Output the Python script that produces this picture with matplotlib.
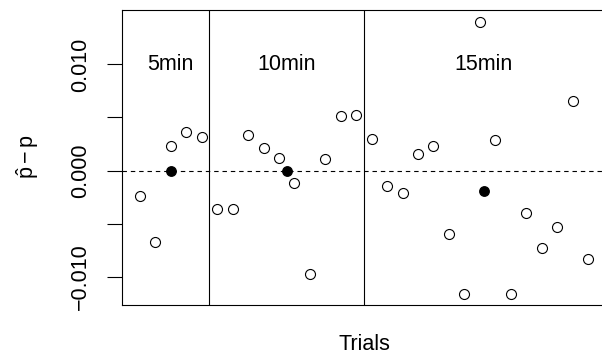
import numpy as np
import matplotlib
matplotlib.use("Agg")
import matplotlib.pyplot as plt

plt.rcParams["font.family"] = ["Liberation Sans", "DejaVu Sans"]
plt.rcParams["mathtext.fontset"] = "custom"
plt.rcParams["mathtext.rm"] = "Liberation Sans"
plt.rcParams["mathtext.it"] = "Liberation Sans"

# estimation error for each trial, grouped by duration
err_5 = [-0.00241, -0.00673, 0.00228, 0.00363, 0.00319]
err_10 = [-0.00363, -0.00366, 0.00335, 0.00216, 0.00116,
          -0.00113, -0.00979, 0.00113, 0.00510, 0.00523]
err_15 = [0.00298, -0.00141, -0.00216, 0.00157, 0.00228,
          -0.00595, -0.01167, 0.01402, 0.00285, -0.01167,
          -0.00401, -0.00726, -0.00532, 0.00651, -0.00829]

groups = ["5min", "10min", "15min"]
group_x = [3, 10.5, 23.25]      # where the group mean and label sit
group_mean = [0.0, 0.0, -0.00188]
splits = [5.5, 15.5]

y_ticks = [-0.010, -0.005, 0.0, 0.005, 0.010]
y_ticklabels = ["\u22120.010", "", "0.000", "", "0.010"]

err = np.array(err_5 + err_10 + err_15)
trial = np.arange(1, len(err) + 1)

fs = 15.5
fig = plt.figure(figsize=(6.02, 3.54), dpi=100)
W, H = 602, 354
left, right, top, bottom = 122, 605.9, 10, 305
ax = fig.add_axes([left / W, 1 - bottom / H, (right - left) / W, (bottom - top) / H])

ax.plot(trial, err, "o", ms=7.2, mfc="white", mec="black", mew=0.8)
ax.plot(group_x, group_mean, "o", ms=6.8, color="black")
ax.axhline(0, color="black", lw=0.8, ls=(0, (4, 3.5)))
for s in splits:
    ax.axvline(s, color="black", lw=0.8)
for g, gx in zip(groups, group_x):
    ax.text(gx, 0.010, g, ha="center", va="center", fontsize=fs)

ax.set_xlim(-0.16, 31.16)
ax.set_ylim(-0.01267, 0.01513)
ax.set_xticks([])
ax.set_yticks(y_ticks)
ax.set_yticklabels(y_ticklabels, rotation=90, va="center", fontsize=fs)
ax.tick_params(axis="y", length=10.5, width=0.8, pad=12)
for sp in ax.spines.values():
    sp.set_linewidth(0.8)

fig.text((left + right) / 2 / W, 1 - 350 / H, "Trials",
         ha="center", va="baseline", fontsize=fs)
fig.text(28 / W, 1 - 157 / H, r"$\hat{\mathrm{p}} - \mathrm{p}$",
         rotation=90, ha="center", va="center", fontsize=fs)

fig.savefig("out.png", dpi=100)
